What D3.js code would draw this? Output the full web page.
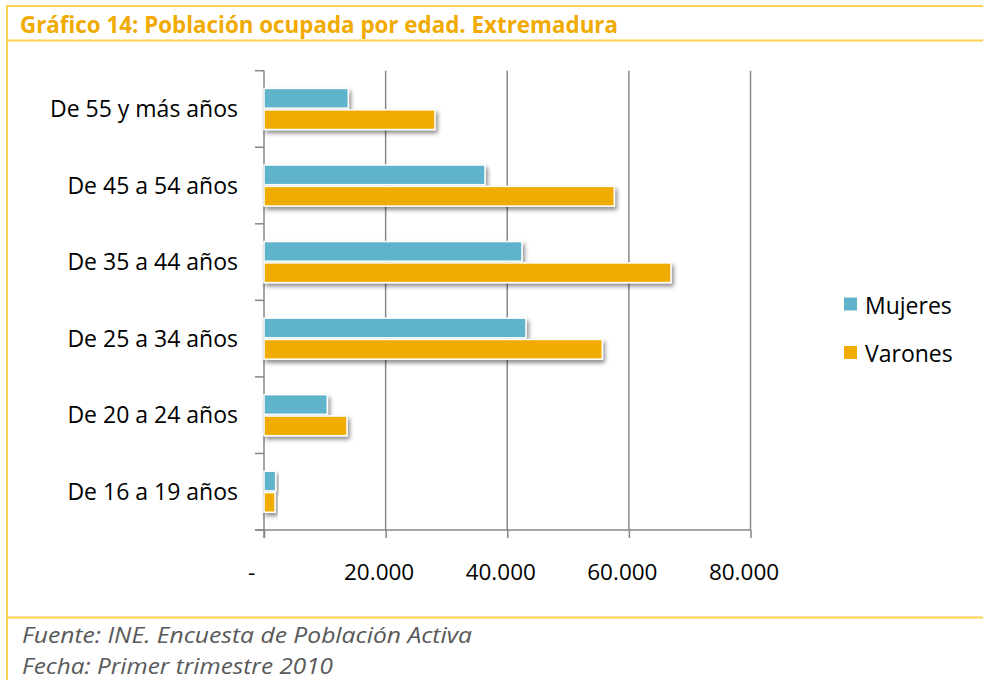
<!DOCTYPE html>
<html>
<head>
<meta charset="utf-8">
<script src="https://cdn.jsdelivr.net/npm/d3@7"></script>
<style>
  html, body { margin: 0; padding: 0; background: #ffffff; }
  svg { display: block; }
</style>
</head>
<body>
<svg id="chart" width="983" height="680"></svg>
<script>
const categories = ["De 55 y más años", "De 45 a 54 años", "De 35 a 44 años", "De 25 a 34 años", "De 20 a 24 años", "De 16 a 19 años"];
const seriesNames = ["Mujeres", "Varones"];
const mujeres = [13860, 36340, 42430, 43080, 10410, 1920];
const varones = [28120, 57600, 66930, 55630, 13650, 1810];
const xTicks = [0, 20000, 40000, 60000, 80000];
const colors = ["#5EB3CB", "#F0AC00"];
const titleText = "Gráfico 14: Población ocupada por edad. Extremadura";
const sourceText = "Fuente: INE. Encuesta de Población Activa";
const dateText = "Fecha: Primer trimestre 2010";

const svg = d3.select("#chart");
const W = 983, H = 680;

// frame
const frameColor = "#FFD24F";
const frame = svg.append("g").attr("stroke", frameColor).attr("fill", "none");
frame.append("line").attr("x1", 7).attr("x2", W).attr("y1", 6).attr("y2", 6).attr("stroke-width", 2);
frame.append("line").attr("x1", 7).attr("x2", 7).attr("y1", 5).attr("y2", H).attr("stroke-width", 2);
frame.append("line").attr("x1", 7).attr("x2", W).attr("y1", 40.5).attr("y2", 40.5).attr("stroke-width", 2);
frame.append("line").attr("x1", 7).attr("x2", W).attr("y1", 617.5).attr("y2", 617.5).attr("stroke-width", 2);

// title
svg.append("text")
  .attr("x", 20).attr("y", 33)
  .attr("font-family", "'Open Sans', sans-serif")
  .attr("font-weight", "bold")
  .attr("font-size", 24)
  .attr("fill", "#F0AA00")
  .attr("textLength", 598)
  .attr("lengthAdjust", "spacingAndGlyphs")
  .text(titleText);

// footer
const foot = svg.append("g")
  .attr("font-family", "'Open Sans', sans-serif")
  .attr("font-style", "italic")
  .attr("font-size", 22)
  .attr("fill", "#595959");
foot.append("text").attr("x", 22).attr("y", 643)
  .attr("textLength", 450).attr("lengthAdjust", "spacingAndGlyphs").text(sourceText);
foot.append("text").attr("x", 22).attr("y", 674)
  .attr("textLength", 311).attr("lengthAdjust", "spacingAndGlyphs").text(dateText);

// scales
const plotTop = 70.7, plotBottom = 530;
const x = d3.scaleLinear().domain([0, 80000]).range([264, 750.5]);
const y = d3.scaleBand().domain(categories).range([plotTop, plotBottom]).paddingInner(0.464).paddingOuter(0.232);
const ySub = d3.scaleBand().domain(seriesNames).range([0, y.bandwidth()]).paddingInner(0.08);

const gridColor = "#878787";

// gridlines
svg.append("g").selectAll("line")
  .data(xTicks.filter(d => d > 0))
  .join("line")
  .attr("x1", d => x(d)).attr("x2", d => x(d))
  .attr("y1", plotTop).attr("y2", plotBottom)
  .attr("stroke", gridColor).attr("stroke-width", 1.5);

// x axis
const xAxis = d3.axisBottom(x).tickValues(xTicks).tickSize(8).tickPadding(26)
  .tickFormat(d => d === 0 ? "-" : d3.format(",")(d).replace(/,/g, "."));
const gx = svg.append("g").attr("transform", `translate(0,${plotBottom})`).call(xAxis);
gx.select(".domain").remove();
gx.append("line").attr("x1", 255).attr("x2", x(80000)).attr("y1", 0).attr("y2", 0)
  .attr("stroke", gridColor).attr("stroke-width", 1.5);
gx.selectAll(".tick line").attr("stroke", gridColor).attr("stroke-width", 1.5);
gx.selectAll(".tick text")
  .attr("font-family", "'Open Sans', sans-serif")
  .attr("font-size", 22.5)
  .attr("fill", "#000")
  .attr("dx", d => d === 0 ? -13 : -7);

// y axis line and boundary ticks
const step = y.step();
const boundaries = d3.range(categories.length + 1).map(i => plotTop + i * step);
const gy = svg.append("g");
gy.append("line").attr("x1", x(0)).attr("x2", x(0)).attr("y1", plotTop).attr("y2", plotBottom + 8)
  .attr("stroke", gridColor).attr("stroke-width", 1.5);
gy.selectAll("line.bt").data(boundaries).join("line").attr("class", "bt")
  .attr("x1", 255).attr("x2", x(0)).attr("y1", d => d).attr("y2", d => d)
  .attr("stroke", gridColor).attr("stroke-width", 1.5);

// category labels
svg.append("g").selectAll("text").data(categories).join("text")
  .attr("x", 238)
  .attr("y", d => y(d) + y.bandwidth() / 2)
  .attr("dy", "0.36em")
  .attr("text-anchor", "end")
  .attr("font-family", "'Open Sans', sans-serif")
  .attr("font-size", 23)
  .attr("fill", "#000")
  .text(d => d);

// shadow filter
const defs = svg.append("defs");
const f = defs.append("filter").attr("id", "shadow").attr("x", "-10%").attr("y", "-30%").attr("width", "130%").attr("height", "180%");
f.append("feDropShadow").attr("dx", 2).attr("dy", 3).attr("stdDeviation", 2)
  .attr("flood-color", "#000").attr("flood-opacity", 0.45);

// bars
const rows = categories.map((c, i) => ({ cat: c, vals: [mujeres[i], varones[i]] }));
const groups = svg.append("g").selectAll("g").data(rows).join("g")
  .attr("transform", d => `translate(0,${y(d.cat)})`);
groups.selectAll("rect")
  .data(d => d.vals.map((v, j) => ({ name: seriesNames[j], v, j })))
  .join("rect")
  .attr("x", x(0))
  .attr("y", d => ySub(d.name))
  .attr("width", d => x(d.v) - x(0))
  .attr("height", ySub.bandwidth())
  .attr("fill", d => colors[d.j])
  .attr("stroke", "#ffffff")
  .attr("stroke-width", 1.5)
  .attr("filter", "url(#shadow)");

// legend
const legend = svg.append("g");
seriesNames.forEach((n, i) => {
  const ly = 297.5 + i * 48.5;
  legend.append("rect").attr("x", 844).attr("y", ly).attr("width", 13).attr("height", 13)
    .attr("fill", colors[i]);
  legend.append("text").attr("x", 865).attr("y", ly + 16)
    .attr("font-family", "'Open Sans', sans-serif").attr("font-size", 23).attr("fill", "#000")
    .text(n);
});
</script>
</body>
</html>
